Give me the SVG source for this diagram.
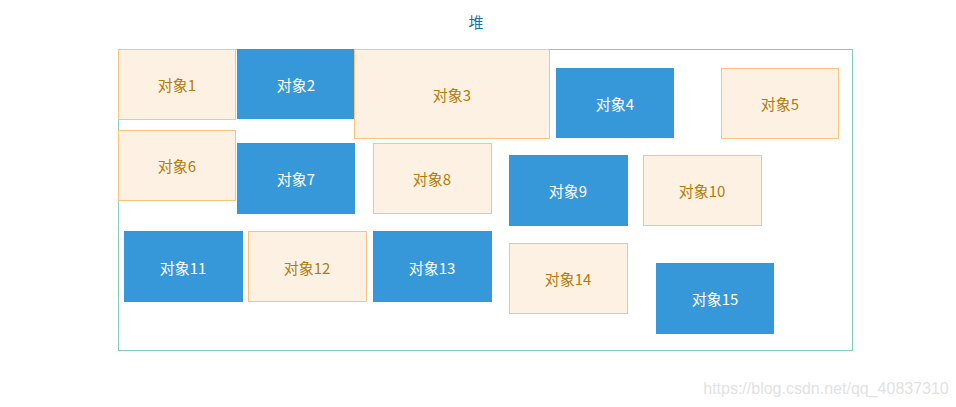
<svg xmlns="http://www.w3.org/2000/svg" width="956" height="407" viewBox="0 0 956 407">
<style>
text{font-family:"Noto Sans CJK SC","Liberation Sans",sans-serif;font-size:15px;text-anchor:middle;dominant-baseline:central}
.l rect{fill:#fdf1e4;stroke:#fcc37c;stroke-width:1}
.l text{fill:#b27b0a}
.b rect{fill:#3798d9}
.b text{fill:#fff}
</style>
<rect width="956" height="407" fill="#fff"/>
<text x="476" y="21" fill="#1f6fa0">堆</text>
<rect id="heap" x="118.5" y="49.5" width="734" height="301" fill="none" stroke="#80d0b8"/>
<g id="n1" class="l"><rect x="118.5" y="49.5" width="117" height="70"/><text x="177" y="84">对象1</text></g>
<g id="n2" class="b"><rect x="237" y="49" width="117" height="70"/><text x="296" y="84">对象2</text></g>
<g id="n3" class="l"><rect x="354.5" y="49.5" width="195" height="89"/><text x="452" y="94">对象3</text></g>
<g id="n4" class="b"><rect x="556" y="68" width="118" height="70"/><text x="615" y="103">对象4</text></g>
<g id="n5" class="l"><rect x="721.5" y="68.5" width="117" height="70"/><text x="780" y="103">对象5</text></g>
<g id="n6" class="l"><rect x="118.5" y="130.5" width="117" height="70"/><text x="177" y="165">对象6</text></g>
<g id="n7" class="b"><rect x="237" y="143" width="118" height="71"/><text x="296" y="178">对象7</text></g>
<g id="n8" class="l"><rect x="373.5" y="143.5" width="118" height="70"/><text x="432" y="178">对象8</text></g>
<g id="n9" class="b"><rect x="509" y="155" width="119" height="71"/><text x="568" y="190">对象9</text></g>
<g id="n10" class="l"><rect x="643.5" y="155.5" width="118" height="70"/><text x="702" y="190">对象10</text></g>
<g id="n11" class="b"><rect x="124" y="231" width="119" height="71"/><text x="183" y="267">对象11</text></g>
<g id="n12" class="l"><rect x="248.5" y="231.5" width="118" height="70"/><text x="307" y="267">对象12</text></g>
<g id="n13" class="b"><rect x="373" y="231" width="119" height="71"/><text x="432" y="267">对象13</text></g>
<g id="n14" class="l"><rect x="509.5" y="243.5" width="118" height="70"/><text x="568" y="278">对象14</text></g>
<g id="n15" class="b"><rect x="656" y="263" width="118" height="71"/><text x="715" y="298">对象15</text></g>
<g id="connectors"/>
<text x="826" y="388" style="font-family:'Liberation Sans',sans-serif;font-size:16px;fill:#e2e2e2">https://blog.csdn.net/qq_40837310</text>
</svg>
